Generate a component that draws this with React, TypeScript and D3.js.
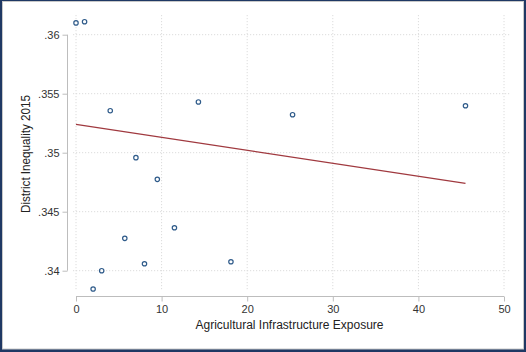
import * as d3 from "d3";
import React from "react";

// districts: agricultural infrastructure exposure vs. inequality
const exposure = [0, 1, 4, 14.3, 7, 25.3, 45.5, 9.5, 11.5, 5.7, 8, 18.1, 3, 2];
const inequality = [
  0.361, 0.3611, 0.35356, 0.3543, 0.34958, 0.35322, 0.35398, 0.34774, 0.34364,
  0.34274, 0.34059, 0.34076, 0.34, 0.33845,
];
// linear fit endpoints
const fitX = [0, 45.5];
const fitY = [0.3524, 0.3474];

const xTicks = [0, 10, 20, 30, 40, 50];
const yTicks = [0.34, 0.345, 0.35, 0.355, 0.36];

const fmtY = (v: number) => d3.format(".3~f")(v).replace(/^0/, "");

const App: React.FC = (): React.ReactElement => {
  const ref = React.useRef<SVGSVGElement>(null);

  React.useEffect(() => {
    const svg = d3.select(ref.current);
    svg.selectAll("*").remove();

    const W = 526;
    const H = 352;
    const font = "'Liberation Sans', Arial, sans-serif";

    // frame
    svg.append("rect").attr("width", W).attr("height", H).attr("fill", "#1f3864");
    svg
      .append("rect")
      .attr("x", 2.5)
      .attr("y", 1.5)
      .attr("width", 521)
      .attr("height", 347.5)
      .attr("fill", "#fff")
      .attr("stroke", "#c8c8c8")
      .attr("stroke-width", 1);

    const x = d3.scaleLinear().domain([0, 50]).range([76, 504]);
    const y = d3.scaleLinear().domain([0.34, 0.36]).range([270.7, 34.7]);

    const plot = { left: 73, right: 511, top: 15, bottom: 290 };

    // grid
    const grid = svg.append("g").attr("stroke", "#dcdcdc").attr("stroke-dasharray", "1.2,1.8");
    grid
      .selectAll("line.h")
      .data(yTicks)
      .enter()
      .append("line")
      .attr("x1", plot.left)
      .attr("x2", plot.right)
      .attr("y1", (d) => y(d))
      .attr("y2", (d) => y(d));
    grid
      .selectAll("line.v")
      .data(xTicks)
      .enter()
      .append("line")
      .attr("x1", (d) => x(d))
      .attr("x2", (d) => x(d))
      .attr("y1", plot.top)
      .attr("y2", plot.bottom);

    // axes
    const axisColor = "#bdbdbd";
    const yAxis = svg
      .append("g")
      .attr("transform", "translate(67.5,0)")
      .call(d3.axisLeft(y).tickValues(yTicks).tickSize(5).tickPadding(3).tickFormat((d) => fmtY(+d)));
    const xAxis = svg
      .append("g")
      .attr("transform", "translate(0,296.5)")
      .call(d3.axisBottom(x).tickValues(xTicks).tickSize(5).tickPadding(4));
    [yAxis, xAxis].forEach((g) => {
      g.select(".domain").attr("stroke", axisColor);
      g.selectAll(".tick line").attr("stroke", axisColor);
      g.selectAll(".tick text")
        .attr("fill", "#333")
        .attr("font-family", font)
        .attr("font-size", 11);
    });
    yAxis.select(".domain").attr("d", `M0,${y(0.34)}V${y(0.36)}`);
    xAxis.select(".domain").attr("d", `M${x(0)},0H${x(50)}`);

    // fit line
    const line = d3
      .line<number>()
      .x((d) => x(fitX[d]))
      .y((d) => y(fitY[d]));
    svg
      .append("path")
      .attr("d", line([0, 1]))
      .attr("fill", "none")
      .attr("stroke", "#a0393f")
      .attr("stroke-width", 1.3);

    // points
    svg
      .append("g")
      .selectAll("circle")
      .data(exposure)
      .enter()
      .append("circle")
      .attr("cx", (d) => x(d))
      .attr("cy", (_d, i) => y(inequality[i]))
      .attr("r", 2.2)
      .attr("fill", "none")
      .attr("stroke", "#2f5b8a")
      .attr("stroke-width", 1.2);

    // titles
    svg
      .append("text")
      .attr("x", 289.5)
      .attr("y", 329)
      .attr("text-anchor", "middle")
      .attr("font-family", font)
      .attr("font-size", 12)
      .attr("fill", "#222")
      .text("Agricultural Infrastructure Exposure");
    svg
      .append("text")
      .attr("transform", "translate(29.5,154) rotate(-90)")
      .attr("text-anchor", "middle")
      .attr("font-family", font)
      .attr("font-size", 12)
      .attr("textLength", 118)
      .attr("lengthAdjust", "spacingAndGlyphs")
      .attr("fill", "#222")
      .text("District Inequality 2015");
  }, []);

  return (
    <svg
      ref={ref}
      width={526}
      height={352}
      style={{ position: "absolute", left: 0, top: 0, display: "block" }}
    />
  );
};

export default App;
